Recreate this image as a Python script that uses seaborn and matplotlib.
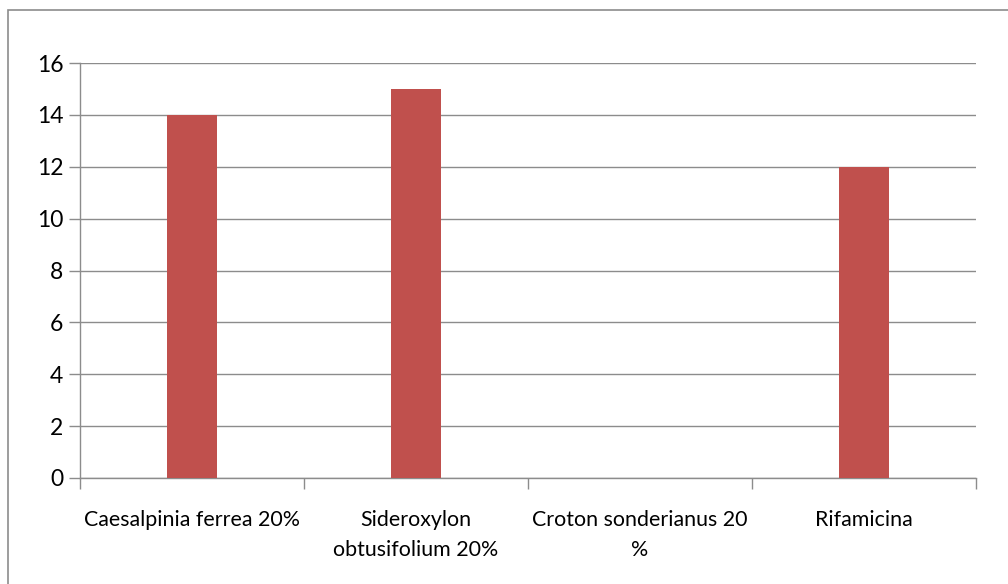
import matplotlib
matplotlib.use("Agg")
import matplotlib.pyplot as plt
import seaborn as sns
import pandas as pd
from matplotlib.patches import Rectangle

categories = ["Caesalpinia ferrea 20%", "Sideroxylon\nobtusifolium 20%",
              "Croton sonderianus 20\n%", "Rifamicina"]
values = [14, 15, 0, 12]
y_ticks = [0, 2, 4, 6, 8, 10, 12, 14, 16]

sns.set_theme(style="white")
plt.rcParams["font.family"] = ["Lato", "DejaVu Sans"]
plt.rcParams["text.color"] = "black"
plt.rcParams["xtick.color"] = "black"
plt.rcParams["ytick.color"] = "black"

df = pd.DataFrame({"categoria": categories, "valor": values})

fig = plt.figure(figsize=(10.08, 5.84), dpi=100)
ax = fig.add_axes([80 / 1008, 1 - 478 / 584, 896 / 1008, 415 / 584])

grey = "#8c8c8c"

# chart frame
fig.patches.append(Rectangle((8 / 1008, -0.05), 1.2, 1 - 10 / 584 + 0.05,
                             transform=fig.transFigure, fill=False,
                             edgecolor=grey, linewidth=1.2, zorder=0))

sns.barplot(data=df, x="categoria", y="valor", color="#C0504D",
            width=0.22, saturation=1, linewidth=0, ax=ax, zorder=3)

ax.set_ylim(0, 16)
ax.set_xlim(-0.5, len(categories) - 0.5)
ax.set_yticks(y_ticks)
ax.yaxis.grid(True, color=grey, linewidth=1)
ax.set_axisbelow(True)

for s in ["top", "right"]:
    ax.spines[s].set_visible(False)
for s in ["left", "bottom"]:
    ax.spines[s].set_color(grey)
    ax.spines[s].set_linewidth(1)

ax.set_xticks([i - 0.5 for i in range(len(categories) + 1)], minor=True)
ax.tick_params(axis="x", which="minor", bottom=True, length=8, color=grey,
               width=1, direction="out")
ax.tick_params(axis="x", which="major", bottom=False, length=0, pad=23,
               labelsize=15.4, labelcolor="black")
ax.tick_params(axis="y", which="major", left=True, length=8, color=grey,
               width=1, direction="out", pad=4, labelsize=16.5,
               labelcolor="black")
for lbl in ax.get_xticklabels():
    lbl.set_linespacing(1.6)

ax.set_xlabel("")
ax.set_ylabel("")

fig.savefig("out.png", dpi=100)
